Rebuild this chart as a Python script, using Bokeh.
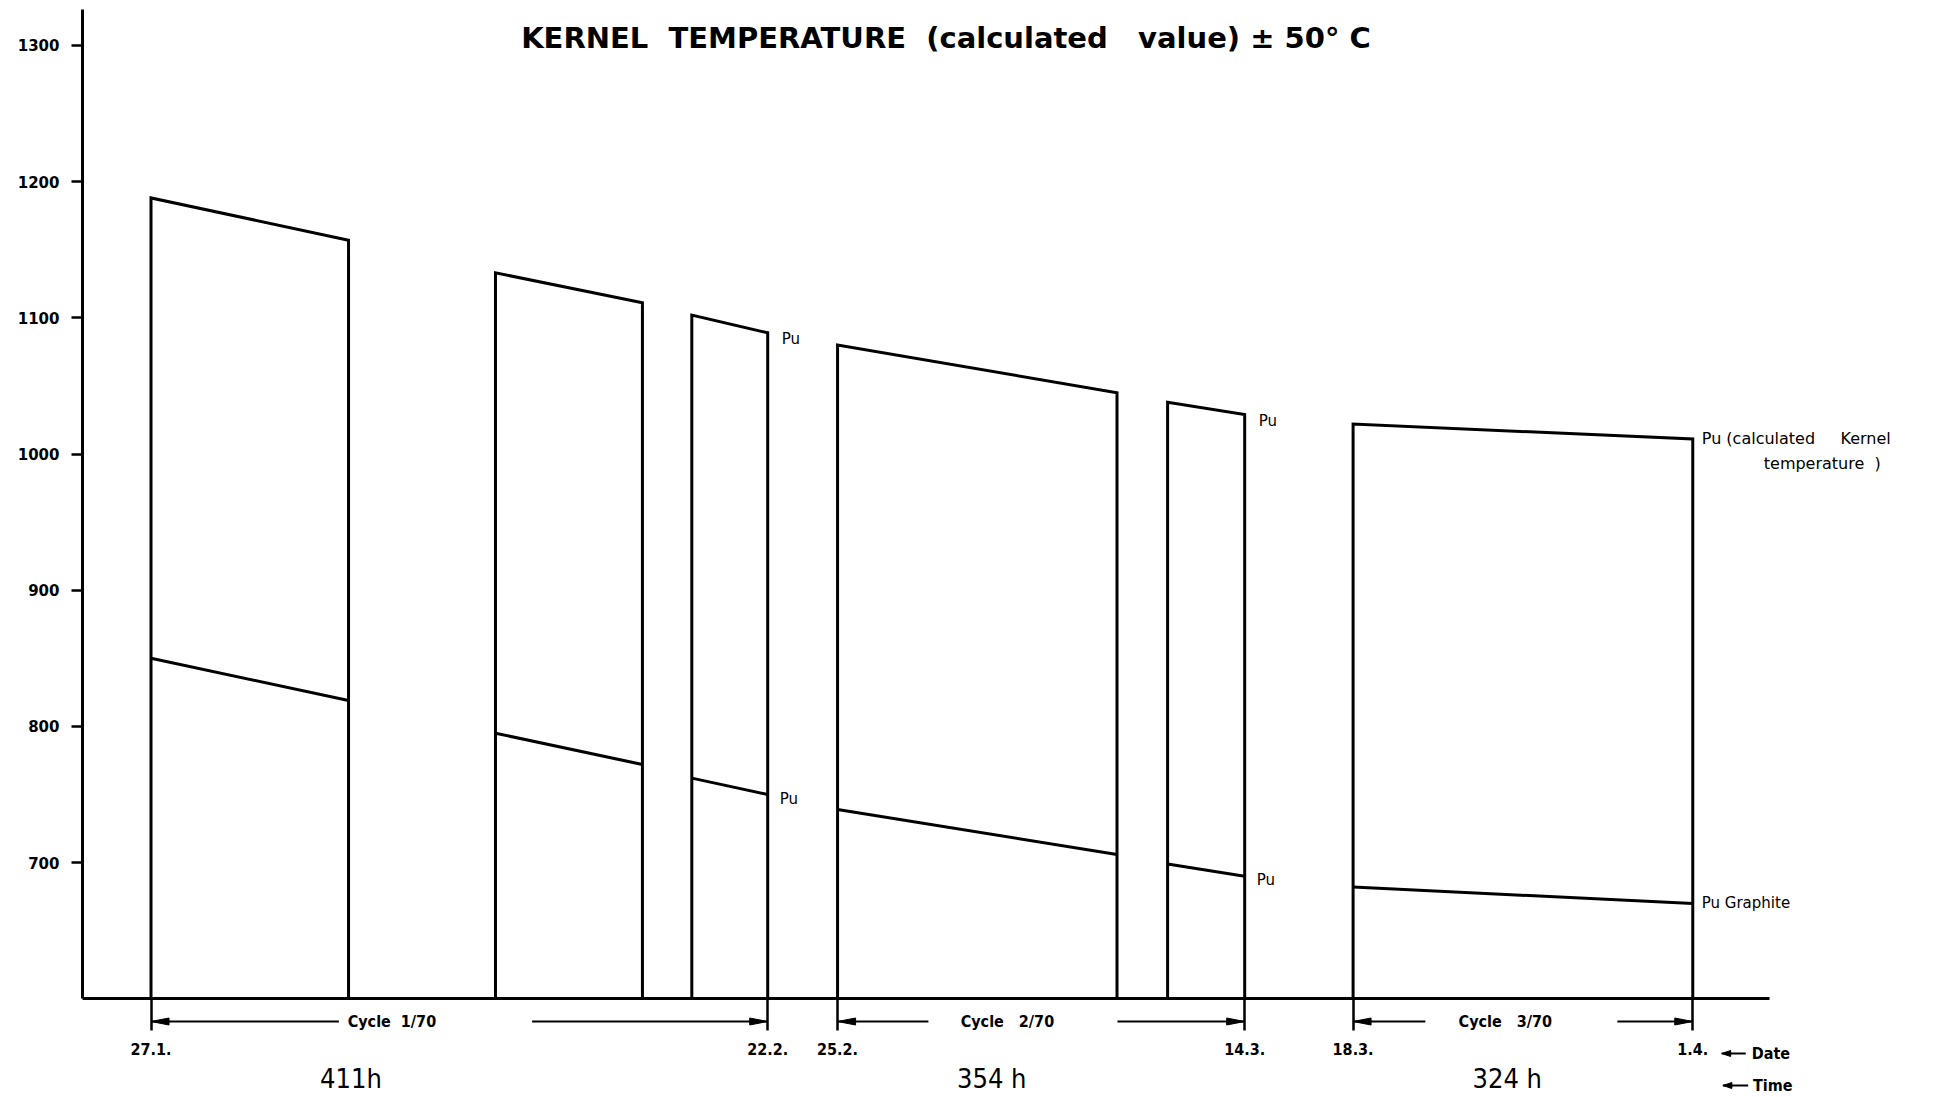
from bokeh.plotting import figure
from bokeh.models import LinearAxis, FixedTicker, Range1d
from bokeh.core.properties import value
from bokeh.embed import file_html
from bokeh.resources import INLINE

NB = "\u00a0"

# ---------------- data (x in day-of-year 1970, y in deg C) ----------------
seg_start = [27.0, 41.3, 49.45, 55.5, 69.2, 76.9]
seg_end = [35.2, 47.4, 52.6, 67.1, 72.4, 91.0]
top_start = [1188, 1133, 1102, 1080, 1038, 1022]
top_end = [1157, 1111, 1089, 1045, 1029, 1011]
low_start = [850, 795, 762, 739, 699, 682]
low_end = [819, 772, 750, 706, 690, 670]

y_ticks = [700, 800, 900, 1000, 1100, 1200, 1300]
date_pos = [27.0, 52.6, 55.5, 72.4, 76.9, 91.0]
date_labels = ["27.1.", "22.2.", "25.2.", "14.3.", "18.3.", "1.4."]
cycle_names = ["Cycle" + NB * 2 + "1/70", "Cycle" + NB * 3 + "2/70", "Cycle" + NB * 3 + "3/70"]
cycle_start = [27.0, 55.5, 76.9]
cycle_end = [52.6, 72.4, 91.0]
hours = ["411h", "354 h", "324 h"]

# ---------------- layout ----------------
W, H = 1940, 1097
PXX, PXY = 24.09, 1.362          # pixels per day, pixels per degree
X0 = 27.0 - 150.5 / PXX
Y1 = 600 + 998.3 / PXY
AXIS_X = 27.0 - 68.5 / PXX
BASE = 600
FONT = "DejaVu Sans Condensed"
WIDE = "DejaVu Sans"

p = figure(width=W, height=H, output_backend="svg", toolbar_location=None,
           x_range=Range1d(X0, X0 + W / PXX), y_range=Range1d(Y1 - H / PXY, Y1),
           x_axis_location=None, y_axis_location=None, min_border=0)
p.outline_line_color = None
p.background_fill_color = "white"
p.border_fill_color = "white"
for g in p.grid:
    g.visible = False

# y axis
yax = LinearAxis(fixed_location=AXIS_X, bounds=(BASE, 1326),
                 ticker=FixedTicker(ticks=y_ticks))
yax.axis_line_width = 3
yax.axis_line_color = "black"
yax.major_tick_out = 11
yax.major_tick_in = 0
yax.major_tick_line_width = 2.5
yax.minor_tick_out = 0
yax.minor_tick_in = 0
yax.major_label_standoff = 12
yax.major_label_text_font = WIDE
yax.major_label_text_font_size = "15px"
yax.major_label_text_font_style = "bold"
yax.major_label_text_color = "black"
p.add_layout(yax, "left")

# x axis (baseline with date ticks)
xax = LinearAxis(fixed_location=BASE, bounds=(AXIS_X, 94.2),
                 ticker=FixedTicker(ticks=date_pos),
                 major_label_overrides={d: l for d, l in zip(date_pos, date_labels)})
xax.axis_line_width = 3
xax.axis_line_color = "black"
xax.major_tick_out = 32
xax.major_tick_in = 0
xax.major_tick_line_width = 2.5
xax.minor_tick_out = 0
xax.minor_tick_in = 0
xax.major_label_standoff = 12
xax.major_label_text_font = FONT
xax.major_label_text_font_size = "16px"
xax.major_label_text_font_style = "bold"
xax.major_label_text_color = "black"
p.add_layout(xax, "below")

# bars (outline boxes with sloped tops) and the lower (graphite) lines
xs = [[s, s, e, e] for s, e in zip(seg_start, seg_end)]
ys = [[BASE, a, b, BASE] for a, b in zip(top_start, top_end)]
p.multi_line(xs, ys, line_color="black", line_width=3, line_join="miter")
p.segment(seg_start, low_start, seg_end, low_end, line_color="black", line_width=3)

# Pu labels
lab_kw = dict(text_font=value(WIDE), text_font_size="15px", text_color="black",
              text_baseline="middle", text_align="left")
p.text([seg_end[2], seg_end[4]], [top_end[2], top_end[4]], text=["Pu", "Pu"],
       x_offset=14, y_offset=6, **lab_kw)
p.text([seg_end[2], seg_end[4]], [low_end[2], low_end[4]], text=["Pu", "Pu"],
       x_offset=12, y_offset=4, **lab_kw)
p.text([seg_end[5]], [top_end[5]], text=["Pu (calculated" + NB * 5 + "Kernel"],
       x_offset=9, y_offset=-1, text_font=value(WIDE), text_font_size="16px",
       text_color="black", text_baseline="middle", text_align="left")
p.text([seg_end[5]], [top_end[5]], text=["temperature" + NB * 2 + ")"], x_offset=71, y_offset=24,
       text_font=value(WIDE), text_font_size="16px", text_color="black",
       text_baseline="middle", text_align="left")
p.text([seg_end[5]], [low_end[5]], text=["Pu Graphite"], x_offset=9, y_offset=0, **lab_kw)

# title
title = ("KERNEL" + NB * 2 + "TEMPERATURE" + NB * 2 + "(calculated" + NB * 3
         + "value)" + NB + "±" + NB + "50°" + NB + "C")
p.text([60.0], [1305.8], text=[title],
       text_font=value(WIDE), text_font_size="29px", text_font_style="bold",
       text_align="center", text_baseline="middle", text_color="black")

# cycle arrows
CY = BASE - 22.7 / PXY
gap_l = [34.8, 59.27, 79.9]
gap_r = [42.82, 67.12, 87.87]
txt_c = [37.0, 62.55, 83.22]
p.segment(cycle_start, [CY] * 3, gap_l, [CY] * 3, line_color="black", line_width=2)
p.segment(gap_r, [CY] * 3, cycle_end, [CY] * 3, line_color="black", line_width=2)
hl, hw = 18 / PXX, 3.5 / PXY
hx = [[s, s + hl, s + hl] for s in cycle_start] + [[e, e - hl, e - hl] for e in cycle_end]
hy = [[CY, CY + hw, CY - hw]] * 6
p.patches(hx, hy, fill_color="black", line_color="black", line_width=1)
p.text(txt_c, [CY] * 3, text=cycle_names, text_font=value(FONT), text_font_size="16px",
       text_font_style="bold", text_align="center", text_baseline="middle", text_color="black")

# hours
p.text([35.3, 61.9, 83.3], [BASE - 80 / PXY] * 3, text=hours, text_font=value(FONT),
       text_font_size="27px", text_align="center", text_baseline="middle", text_color="black")

# Date / Time legends
DY = BASE - 54.7 / PXY
TY = BASE - 86.7 / PXY
ax_tip = [92.2, 92.25]
ax_end = [93.2, 93.3]
p.segment(ax_tip, [DY, TY], ax_end, [DY, TY], line_color="black", line_width=2)
ahl, ahw = 9 / PXX, 3 / PXY
p.patches([[t, t + ahl, t + ahl] for t in ax_tip],
          [[DY, DY + ahw, DY - ahw], [TY, TY + ahw, TY - ahw]],
          fill_color="black", line_color="black")
p.text([93.45, 93.5], [DY, TY], text=["Date", "Time"], text_font=value(FONT),
       text_font_size="16px", text_font_style="bold", text_align="left",
       text_baseline="middle", text_color="black")

open("out.html", "w").write(file_html(p, INLINE))
